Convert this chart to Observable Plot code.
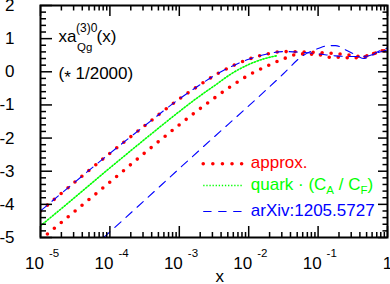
<!DOCTYPE html>
<html><head><meta charset="utf-8">
<script src="https://cdn.jsdelivr.net/npm/d3@7"></script>
<script src="https://cdn.jsdelivr.net/npm/@observablehq/plot@0.6"></script>
<style>html,body{margin:0;padding:0;background:#fff}svg{display:block}</style>
</head><body><div id="chart"></div>
<script>
// ---- data (x given as log10(x)) ----
const approxUpperLogX = [-5, -4.5, -4, -3.5, -3, -2.75, -2.5, -2.25, -2, -1.75, -1.5, -1.25, -1, -0.75, -0.5, -0.37, -0.25, -0.12, 0];
const approxUpperY    = [-4.2, -3.32, -2.46, -1.63, -0.82, -0.46, -0.12, 0.16, 0.38, 0.53, 0.61, 0.60, 0.58, 0.55, 0.49, 0.46, 0.51, 0.60, 0.65];
const approxLowerLogX = [-5, -4.5, -4, -3.5, -3, -2.75, -2.5, -2.25, -2, -1.75, -1.5, -1.25, -1, -0.86, -0.73, -0.5, -0.36, -0.24, -0.12, 0];
const approxLowerY    = [-5.07, -4.2, -3.33, -2.45, -1.6, -1.19, -0.8, -0.43, -0.1, 0.16, 0.39, 0.54, 0.52, 0.44, 0.44, 0.42, 0.44, 0.51, 0.62, 0.65];
const quarkLogX = [-5, -4.5, -4, -3.5, -3, -2.75, -2.5, -2.25, -2, -1.75, -1.58];
const quarkY    = [-4.65, -3.78, -2.9, -2.04, -1.2, -0.8, -0.43, -0.06, 0.22, 0.41, 0.49];
const arxivUpperLogX = [-5, -4.5, -4, -3.5, -3, -2.75, -2.5, -2.25, -2, -1.75, -1.5, -1.25, -1, -0.75, -0.5, -0.3, -0.15, 0];
const arxivUpperY    = [-4.2, -3.32, -2.46, -1.63, -0.82, -0.46, -0.12, 0.16, 0.38, 0.53, 0.61, 0.59, 0.54, 0.48, 0.46, 0.47, 0.57, 0.66];
const arxivLowerLogX = [-4.25, -4, -3.5, -3, -2.5, -2, -1.75, -1.5, -1.25, -1, -0.85, -0.75, -0.6, -0.45, -0.35, -0.25, -0.12, 0];
const arxivLowerY    = [-5.3, -4.83, -3.88, -2.92, -1.97, -1.03, -0.55, -0.06, 0.44, 0.70, 0.79, 0.79, 0.66, 0.50, 0.40, 0.47, 0.63, 0.72];

const xTickValues = [1e-5, 1e-4, 1e-3, 1e-2, 1e-1, 1];
const xTickBase   = ["10", "10", "10", "10", "10", "1"];
const xTickExp    = ["-5", "-4", "-3", "-2", "-1", ""];
const yTickValues = [-5, -4, -3, -2, -1, 0, 1, 2];
const legendLabels = ["approx.", "quark · (C_{A} / C_{F})", "arXiv:1205.5727"];

// ---- styling / layout ----
const W = 390, H = 284, mL = 40, mR = 3, mT = 5, mB = 47;
const frameW = W - mL - mR, frameH = H - mT - mB;
const styles = {
  approx: {stroke: "#ff0000", strokeWidth: 3.6, strokeDasharray: "0 9", strokeLinecap: "round"},
  quark:  {stroke: "#00ff00", strokeWidth: 1.6, strokeDasharray: "1.3 1.8"},
  arxiv:  {stroke: "#0000ff", strokeWidth: 1.1, strokeDasharray: "8.3 6.7"}
};
const legendStyles = [
  {stroke: "#ff0000", strokeWidth: 3.6, strokeDasharray: "0 9.6", strokeLinecap: "round"},
  styles.quark, styles.arxiv
];
const legendColors = ["#ff0000", "#00ff00", "#0000ff"];
const legendLayout = {x1: 10 ** -2.648, x2: 10 ** -2.085, textX: 10 ** -1.97, y: [-2.777, -3.43, -4.215]};

const rows = (lx, ys) => lx.map((e, i) => ({x: 10 ** e, y: ys[i]}));
const minorX = [];
for (let d = -5; d < 0; d++) for (let m = 2; m <= 9; m++) minorX.push(m * 10 ** d);
const minorY = d3.range(-5, 2.001, 0.2).map(v => Math.round(v * 10) / 10).filter(v => !Number.isInteger(v));

const lineOpts = (s) => ({x: "x", y: "y", curve: "monotone-x", clip: true, ...s});

const marks = [
  Plot.line(rows(approxUpperLogX, approxUpperY), lineOpts(styles.approx)),
  Plot.line(rows(approxLowerLogX, approxLowerY), lineOpts(styles.approx)),
  Plot.line(rows(quarkLogX, quarkY), lineOpts(styles.quark)),
  Plot.line(rows(arxivUpperLogX, arxivUpperY), lineOpts(styles.arxiv)),
  Plot.line(rows(arxivLowerLogX, arxivLowerY), lineOpts(styles.arxiv)),
  Plot.frame({stroke: "black", strokeWidth: 2}),
  // inward ticks
  Plot.tickX(xTickValues, {x: d => d, insetTop: frameH - 11, strokeWidth: 1.5}),
  Plot.tickX(minorX, {x: d => d, insetTop: frameH - 5, strokeWidth: 1.5}),
  Plot.tickX(xTickValues, {x: d => d, insetBottom: frameH - 11, strokeWidth: 1.5}),
  Plot.tickX(minorX, {x: d => d, insetBottom: frameH - 5.5, strokeWidth: 1.5}),
  Plot.tickY(yTickValues, {y: d => d, insetRight: frameW - 12, strokeWidth: 1.5}),
  Plot.tickY(minorY, {y: d => d, insetRight: frameW - 6, strokeWidth: 1.5}),
  Plot.tickY(yTickValues, {y: d => d, insetLeft: frameW - 9, strokeWidth: 1.5}),
  Plot.tickY(minorY, {y: d => d, insetLeft: frameW - 4.5, strokeWidth: 1.5}),
  // tick labels
  Plot.text(yTickValues, {y: d => d, text: d => String(d), frameAnchor: "left", textAnchor: "end", dx: -26, fontSize: 17}),
  Plot.text(xTickValues.slice(0, -1), {x: d => d, text: (d, i) => xTickBase[i], frameAnchor: "bottom", textAnchor: "end", lineAnchor: "bottom", dx: 3.5, dy: 31, fontSize: 17}),
  Plot.text(xTickValues.slice(0, -1), {x: d => d, text: (d, i) => xTickExp[i], frameAnchor: "bottom", textAnchor: "start", lineAnchor: "bottom", dx: 8.5, dy: 19, fontSize: 11.5}),
  Plot.text(xTickValues.slice(-1), {x: d => d, text: () => xTickBase[xTickBase.length - 1], frameAnchor: "bottom", textAnchor: "middle", lineAnchor: "bottom", dy: 31, fontSize: 17}),
  Plot.text(["x"], {text: d => d, frameAnchor: "bottom", lineAnchor: "bottom", dx: 5.8, dy: 44, fontSize: 17}),
  // in-plot title
  Plot.text(["xa"], {text: d => d, frameAnchor: "top-left", textAnchor: "start", lineAnchor: "bottom", dx: 18, dy: 36.5, fontSize: 17}),
  Plot.text(["(3)0"], {text: d => d, frameAnchor: "top-left", textAnchor: "start", lineAnchor: "bottom", dx: 35.5, dy: 26, fontSize: 12}),
  Plot.text(["Qg"], {text: d => d, frameAnchor: "top-left", textAnchor: "start", lineAnchor: "bottom", dx: 36.5, dy: 45, fontSize: 11.5}),
  Plot.text(["(x)"], {text: d => d, frameAnchor: "top-left", textAnchor: "start", lineAnchor: "bottom", dx: 56, dy: 36.5, fontSize: 17}),
  Plot.text(["(∗ 1/2000)"], {text: d => d, frameAnchor: "top-left", textAnchor: "start", lineAnchor: "bottom", dx: 18, dy: 73.3, fontSize: 17})
];
legendLabels.forEach((label, i) => {
  marks.push(Plot.ruleY([legendLayout.y[i]], {y: d => d, x1: () => legendLayout.x1, x2: () => legendLayout.x2, ...legendStyles[i]}));
  marks.push(Plot.text([label], {text: d => d, x: () => legendLayout.textX, y: () => legendLayout.y[i], textAnchor: "start", dy: -1, fill: legendColors[i], fontSize: 17}));
});

const svg = Plot.plot({
  width: W, height: H,
  marginLeft: mL, marginRight: mR, marginTop: mT, marginBottom: mB,
  x: {type: "log", domain: [1e-5, 1], axis: null},
  y: {domain: [-5, 2], axis: null},
  style: {fontFamily: "'Liberation Sans', Arial, Helvetica, sans-serif", fontSize: "17px", background: "white", color: "black"},
  marks
});
document.getElementById("chart").appendChild(svg);

// rich text: _{sub}, ^{sup} and a centred asterisk operator
function richify(root) {
  const NS = "http://www.w3.org/2000/svg";
  root.querySelectorAll("text").forEach(t => {
    const s = t.textContent;
    if (!/[_^]\{|∗/.test(s)) return;
    t.textContent = "";
    const re = /([_^])\{([^}]*)\}|(∗)|([^_^∗]+)/g;
    let m, offset = 0;
    while ((m = re.exec(s))) {
      const ts = document.createElementNS(NS, "tspan");
      if (m[4] !== undefined) {
        ts.textContent = m[4];
        if (offset) ts.setAttribute("dy", -offset);
        offset = 0;
      } else if (m[3] !== undefined) {
        ts.textContent = "*";
        ts.setAttribute("font-size", 17);
        ts.setAttribute("dy", 4 - offset);
        offset = 4;
      } else {
        const shift = m[1] === "_" ? 4.5 : -6;
        ts.textContent = m[2];
        ts.setAttribute("font-size", 11.5);
        ts.setAttribute("dy", shift - offset);
        offset = shift;
      }
      t.appendChild(ts);
    }
  });
}
richify(svg);
</script></body></html>
